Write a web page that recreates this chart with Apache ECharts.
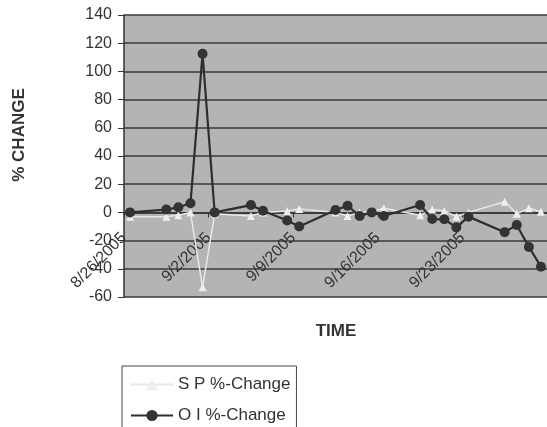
<!DOCTYPE html>
<html><head><meta charset="utf-8">
<script src="https://cdn.jsdelivr.net/npm/echarts@6/dist/echarts.min.js"></script>
<style>html,body{margin:0;padding:0;background:#fff}#c{width:547px;height:427px}</style>
</head><body><div id="c"></div>
<script>
const dates = ['8/26/2005','8/29/2005','8/30/2005','8/31/2005','9/1/2005','9/2/2005','9/5/2005','9/6/2005','9/8/2005','9/9/2005','9/12/2005','9/13/2005','9/14/2005','9/15/2005','9/16/2005','9/19/2005','9/20/2005','9/21/2005','9/22/2005','9/23/2005','9/26/2005','9/27/2005','9/28/2005','9/29/2005'];
const spChange = [-3,-3,-2,0,-53,-1,-2.5,0,1,2.5,0,-2.5,0,0.5,3,-2,2,1,-3,0,7.5,-1,3,0.5];
const oiChange = [0,2,3.6,6.5,112.5,0,5.2,1.2,-5.7,-10,1.7,4.7,-2.6,0,-2.6,5.2,-4.7,-4.9,-10.6,-3,-14,-8.9,-24.5,-38.5];
const xTickLabels = ['8/26/2005','9/2/2005','9/9/2005','9/16/2005','9/23/2005','9/30/2005'];
const yMin = -60, yMax = 140, yStep = 20;
const seriesNames = ['S P %-Change','O I %-Change'];

function dayOffset(s){
  const p = s.split('/').map(Number);
  const p0 = dates[0].split('/').map(Number);
  return (Date.UTC(p[2],p[0]-1,p[1]) - Date.UTC(p0[2],p0[0]-1,p0[1]))/86400000 + 0.5;
}
const spData = dates.map((d,i)=>[dayOffset(d), spChange[i]]);
const oiData = dates.map((d,i)=>[dayOffset(d), oiChange[i]]);

const gridH = 282;
const zeroOffset = -(0 - yMin)/(yMax - yMin)*gridH;

const chart = echarts.init(document.getElementById('c'), null, {renderer:'canvas'});
const txt = '#333';
chart.setOption({
  animation:false,
  backgroundColor:'#fff',
  grid:{left:124, top:15, width:425, height:gridH, show:true, backgroundColor:'#b4b4b4', borderWidth:0},
  xAxis:{type:'value', min:0, max:35, interval:7, position:'bottom', offset:zeroOffset,
    axisLine:{show:true, onZero:false, lineStyle:{color:'#333', width:1.5}},
    axisTick:{show:true, length:5, lineStyle:{color:'#333'}},
    splitLine:{show:false},
    axisLabel:{rotate:45, margin:23, fontSize:16, color:txt, fontFamily:'Liberation Sans',
      showMaxLabel:false,
      formatter:v=>xTickLabels[Math.round(v/7)]||''}
  },
  yAxis:{type:'value', min:yMin, max:yMax, interval:yStep,
    axisLine:{show:true, onZero:false, lineStyle:{color:'#333', width:1.5}},
    axisTick:{show:true, length:6, lineStyle:{color:'#333'}},
    splitLine:{show:true, lineStyle:{color:'#3a3a3a', width:1.5}},
    axisLabel:{fontSize:16, color:txt, margin:12, fontFamily:'Liberation Sans'}
  },
  legend:{orient:'vertical', left:122, top:366, height:90, data:seriesNames,
    borderColor:'#444', borderWidth:1, borderRadius:0, padding:[10,6,14,8],
    itemWidth:42, itemHeight:14, itemGap:14,
    textStyle:{fontSize:17, color:txt, fontFamily:'Liberation Sans'}},
  graphic:[
    {type:'text', x:19, y:135, rotation:Math.PI/2, style:{text:'% CHANGE', font:'bold 17px Liberation Sans', fill:txt, align:'center', verticalAlign:'middle'}},
    {type:'text', x:336, y:331, style:{text:'TIME', font:'bold 17px Liberation Sans', fill:txt, align:'center', verticalAlign:'middle'}}
  ],
  series:[
    {name:seriesNames[0], type:'line', data:spData, symbol:'triangle', symbolSize:8,
      lineStyle:{color:'#e8e8e8', width:1.5}, itemStyle:{color:'#eeeeee'}, z:2},
    {name:seriesNames[1], type:'line', data:oiData, symbol:'circle', symbolSize:10,
      lineStyle:{color:'#2e2e2e', width:2.2}, itemStyle:{color:'#333'}, z:3}
  ]
});
</script></body></html>
